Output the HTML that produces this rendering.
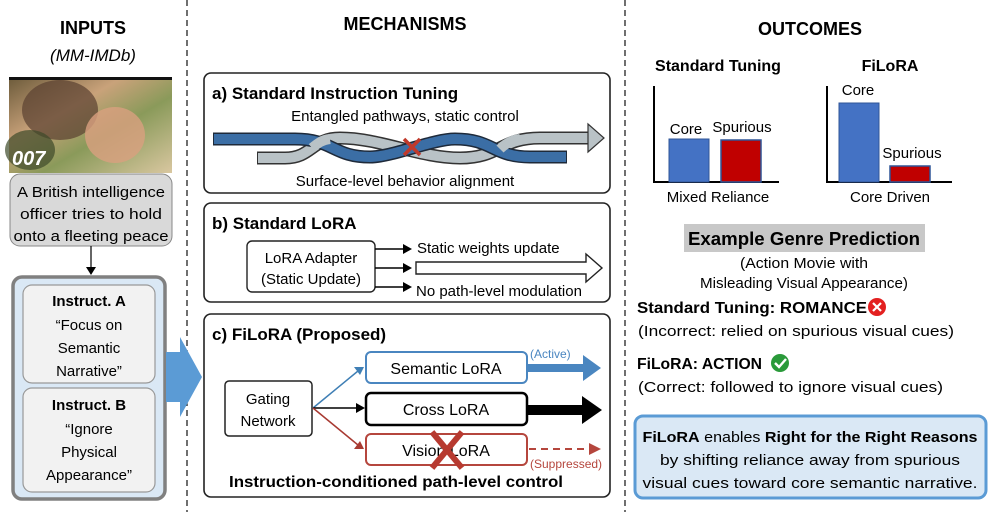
<!DOCTYPE html>
<html><head><meta charset="utf-8"><style>
html,body{margin:0;padding:0;background:#fff;}
svg{display:block;}
text{font-family:"Liberation Sans",sans-serif;}
</style></head><body>
<svg width="996" height="512" viewBox="0 0 996 512" xmlns="http://www.w3.org/2000/svg">
<defs>
<linearGradient id="ph" x1="0" y1="0" x2="1" y2="1">
<stop offset="0" stop-color="#6b5a3a"/><stop offset="0.35" stop-color="#c9a27a"/><stop offset="0.6" stop-color="#8a9a5a"/><stop offset="1" stop-color="#d9c7a0"/>
</linearGradient>
</defs>
<line x1="187" y1="0" x2="187" y2="512" stroke="#222" stroke-width="1.3" stroke-dasharray="6,4"/>
<line x1="625" y1="0" x2="625" y2="512" stroke="#222" stroke-width="1.3" stroke-dasharray="6,4"/>

<text x="93" y="34" font-size="18" font-weight="bold" text-anchor="middle">INPUTS</text>
<text x="93" y="61" font-size="17" font-style="italic" text-anchor="middle">(MM-IMDb)</text>
<rect x="9" y="77" width="163" height="96" fill="url(#ph)"/>
<rect x="9" y="77" width="163" height="3" fill="#111"/>
<ellipse cx="60" cy="110" rx="38" ry="30" fill="#5a4030" opacity="0.7"/>
<ellipse cx="115" cy="135" rx="30" ry="28" fill="#d9a080" opacity="0.8"/>
<ellipse cx="30" cy="150" rx="25" ry="20" fill="#3d4a2a" opacity="0.7"/>
<text x="12" y="165" font-size="20" font-weight="bold" font-style="italic" fill="#fff">007</text>
<rect x="10" y="174" width="162" height="72" rx="10" fill="#d9d9d9" stroke="#888" stroke-width="1"/>
<text x="91" y="197" font-size="15" text-anchor="middle" textLength="148" lengthAdjust="spacingAndGlyphs">A British intelligence</text>
<text x="91" y="219" font-size="15" text-anchor="middle" textLength="142" lengthAdjust="spacingAndGlyphs">officer tries to hold</text>
<text x="91" y="241" font-size="15" text-anchor="middle" textLength="155" lengthAdjust="spacingAndGlyphs">onto a fleeting peace</text>
<line x1="91" y1="246" x2="91" y2="268" stroke="#000" stroke-width="1.2"/>
<polygon points="86,267 96,267 91,275" fill="#000"/>
<rect x="13" y="277" width="152" height="222" rx="9" fill="#dae8f5" stroke="#808080" stroke-width="3.5"/>
<rect x="23" y="285" width="132" height="98" rx="9" fill="#f2f2f2" stroke="#999" stroke-width="1.2"/>
<text x="89" y="306" font-size="15" font-weight="bold" text-anchor="middle">Instruct. A</text>
<text x="89" y="330" font-size="15" text-anchor="middle">“Focus on</text>
<text x="89" y="353" font-size="15" text-anchor="middle">Semantic</text>
<text x="89" y="376" font-size="15" text-anchor="middle">Narrative”</text>
<rect x="23" y="388" width="132" height="104" rx="9" fill="#f2f2f2" stroke="#999" stroke-width="1.2"/>
<text x="89" y="410" font-size="15" font-weight="bold" text-anchor="middle">Instruct. B</text>
<text x="89" y="434" font-size="15" text-anchor="middle">“Ignore</text>
<text x="89" y="457" font-size="15" text-anchor="middle">Physical</text>
<text x="89" y="480" font-size="15" text-anchor="middle">Appearance”</text>
<polygon points="166,352 180,352 180,337 202,377 180,417 180,402 166,402" fill="#5b9bd5"/>

<text x="405" y="30" font-size="18" font-weight="bold" text-anchor="middle">MECHANISMS</text>
<rect x="204" y="73" width="406" height="120" rx="7" fill="#fff" stroke="#222" stroke-width="1.6"/>
<text x="212" y="99" font-size="17" font-weight="bold">a) Standard Instruction Tuning</text>
<text x="405" y="121" font-size="15" text-anchor="middle">Entangled pathways, static control</text>
<path d="M257,158 L285,158 C312,158 312,138 340,138 C380,138 420,158 460,158 C500,158 500,138 540,138 L590,138" fill="none" stroke="#333" stroke-width="13"/>
<path d="M258,158 L285,158 C312,158 312,138 340,138 C380,138 420,158 460,158 C500,158 500,138 540,138 L592,138" fill="none" stroke="#b9c2c6" stroke-width="10"/>
<polygon points="588,124 604,138 588,152" fill="#b9c2c6" stroke="#333" stroke-width="1.2"/>
<path d="M213,139 L295,139 C333,139 333,157 370,157 C392,157 433,139 455,139 C493,139 493,157 530,157 L567,157" fill="none" stroke="#1e2a3a" stroke-width="13"/>
<path d="M214,139 L295,139 C333,139 333,157 370,157 C392,157 433,139 455,139 C493,139 493,157 530,157 L566,157" fill="none" stroke="#3b6ea5" stroke-width="10"/>
<path d="M312,148 C318,143 322,140 330,139" fill="none" stroke="#b9c2c6" stroke-width="10"/>
<path d="M500,149 C506,143 512,140 520,139" fill="none" stroke="#b9c2c6" stroke-width="10"/>
<line x1="404" y1="139" x2="420" y2="155" stroke="#c0392b" stroke-width="3.5"/>
<line x1="420" y1="139" x2="404" y2="155" stroke="#c0392b" stroke-width="3.5"/>
<text x="405" y="186" font-size="15" text-anchor="middle">Surface-level behavior alignment</text>

<rect x="204" y="203" width="406" height="99" rx="7" fill="#fff" stroke="#222" stroke-width="1.6"/>
<text x="212" y="229" font-size="17" font-weight="bold">b) Standard LoRA</text>
<rect x="247" y="241" width="128" height="51" rx="5" fill="#fff" stroke="#222" stroke-width="1.4"/>
<text x="311" y="263" font-size="15" text-anchor="middle">LoRA Adapter</text>
<text x="311" y="284" font-size="15" text-anchor="middle">(Static Update)</text>
<g stroke="#000" stroke-width="1.5">
<line x1="375" y1="249" x2="404" y2="249"/><line x1="375" y1="268" x2="404" y2="268"/><line x1="375" y1="287" x2="404" y2="287"/></g>
<polygon points="403,244 412,249 403,254" fill="#000"/>
<polygon points="403,263 412,268 403,273" fill="#000"/>
<polygon points="403,282 412,287 403,292" fill="#000"/>
<polygon points="416,262 586,262 586,254 602,268 586,282 586,274 416,274" fill="#fff" stroke="#222" stroke-width="1.4"/>
<text x="417" y="253" font-size="15">Static weights update</text>
<text x="416" y="296" font-size="15">No path-level modulation</text>

<rect x="204" y="314" width="406" height="183" rx="7" fill="#fff" stroke="#222" stroke-width="1.6"/>
<text x="212" y="340" font-size="17" font-weight="bold">c) FiLoRA (Proposed)</text>
<rect x="225" y="381" width="87" height="55" rx="4" fill="#fff" stroke="#222" stroke-width="1.5"/>
<text x="268" y="404" font-size="15" text-anchor="middle">Gating</text>
<text x="268" y="426" font-size="15" text-anchor="middle">Network</text>
<line x1="313" y1="408" x2="358" y2="371" stroke="#3f7fb5" stroke-width="1.5"/>
<polygon points="364,367 354,367 360,375" fill="#3f7fb5"/>
<line x1="313" y1="408" x2="357" y2="408" stroke="#000" stroke-width="1.5"/>
<polygon points="356,403 365,408 356,413" fill="#000"/>
<line x1="313" y1="408" x2="358" y2="445" stroke="#a83a32" stroke-width="1.5"/>
<polygon points="364,449 354,449 360,441" fill="#a83a32"/>
<rect x="366" y="352" width="161" height="31" rx="5" fill="#fff" stroke="#4a86c0" stroke-width="2"/>
<text x="446" y="374" font-size="16" text-anchor="middle">Semantic LoRA</text>
<rect x="366" y="393" width="161" height="32" rx="5" fill="#fff" stroke="#000" stroke-width="2.5"/>
<text x="446" y="415" font-size="16" text-anchor="middle">Cross LoRA</text>
<rect x="366" y="434" width="161" height="31" rx="5" fill="#fff" stroke="#b5463d" stroke-width="2"/>
<text x="446" y="456" font-size="16" text-anchor="middle">Vision LoRA</text>
<line x1="432" y1="432" x2="462" y2="468" stroke="#b73a30" stroke-width="6"/>
<line x1="462" y1="432" x2="432" y2="468" stroke="#b73a30" stroke-width="6"/>
<polygon points="527,364 583,364 583,355 601,368 583,381 583,372 527,372" fill="#4a86c0"/>
<text x="530" y="358" font-size="12" fill="#4a86c0">(Active)</text>
<polygon points="527,405 582,405 582,396 602,410 582,424 582,415 527,415" fill="#000"/>
<line x1="529" y1="449" x2="590" y2="449" stroke="#b5463d" stroke-width="2" stroke-dasharray="7,5"/>
<polygon points="589,443 601,449 589,455" fill="#b5463d"/>
<text x="530" y="468" font-size="12" fill="#b5463d">(Suppressed)</text>
<text x="396" y="487" font-size="16" font-weight="bold" text-anchor="middle" textLength="334" lengthAdjust="spacingAndGlyphs">Instruction-conditioned path-level control</text>

<text x="810" y="35" font-size="18" font-weight="bold" text-anchor="middle">OUTCOMES</text>
<text x="718" y="71" font-size="16" font-weight="bold" text-anchor="middle">Standard Tuning</text>
<text x="890" y="71" font-size="16" font-weight="bold" text-anchor="middle">FiLoRA</text>
<path d="M654,86 L654,182 L779,182" fill="none" stroke="#000" stroke-width="2"/>
<rect x="669" y="139" width="40" height="43" fill="#4472c4" stroke="#2f5597" stroke-width="1"/>
<rect x="721" y="140" width="40" height="42" fill="#c00000" stroke="#2f5597" stroke-width="1.5"/>
<text x="686" y="134" font-size="15" text-anchor="middle">Core</text>
<text x="742" y="132" font-size="15" text-anchor="middle">Spurious</text>
<text x="718" y="202" font-size="15" text-anchor="middle">Mixed Reliance</text>
<path d="M827,86 L827,182 L952,182" fill="none" stroke="#000" stroke-width="2"/>
<rect x="839" y="103" width="40" height="79" fill="#4472c4" stroke="#2f5597" stroke-width="1"/>
<rect x="890" y="166" width="40" height="16" fill="#c00000" stroke="#2f5597" stroke-width="1.5"/>
<text x="858" y="95" font-size="15" text-anchor="middle">Core</text>
<text x="912" y="158" font-size="15" text-anchor="middle">Spurious</text>
<text x="890" y="202" font-size="15" text-anchor="middle">Core Driven</text>

<rect x="684" y="224" width="241" height="28" fill="#c8c8c8"/>
<text x="804" y="245" font-size="18" font-weight="bold" text-anchor="middle" textLength="232" lengthAdjust="spacingAndGlyphs">Example Genre Prediction</text>
<text x="804" y="268" font-size="14.5" text-anchor="middle" textLength="128" lengthAdjust="spacingAndGlyphs">(Action Movie with</text>
<text x="804" y="288" font-size="14.5" text-anchor="middle" textLength="208" lengthAdjust="spacingAndGlyphs">Misleading Visual Appearance)</text>
<text x="637" y="313" font-size="16" font-weight="bold" textLength="230" lengthAdjust="spacingAndGlyphs">Standard Tuning: ROMANCE</text>
<circle cx="877" cy="307" r="9" fill="#e32020"/>
<path d="M873,303 L881,311 M881,303 L873,311" stroke="#fff" stroke-width="2.2"/>
<text x="638" y="336" font-size="15" textLength="316" lengthAdjust="spacingAndGlyphs">(Incorrect: relied on spurious visual cues)</text>
<text x="637" y="369" font-size="16" font-weight="bold" textLength="125" lengthAdjust="spacingAndGlyphs">FiLoRA: ACTION</text>
<circle cx="780" cy="363" r="9" fill="#2a9a3a"/>
<path d="M775,363 L779,367 L786,359" fill="none" stroke="#fff" stroke-width="2.4"/>
<text x="638" y="392" font-size="15" textLength="305" lengthAdjust="spacingAndGlyphs">(Correct: followed to ignore visual cues)</text>

<rect x="635" y="416" width="351" height="82" rx="8" fill="#dae8f5" stroke="#5b9bd5" stroke-width="3"/>
<text x="810" y="442" font-size="15" text-anchor="middle" textLength="335" lengthAdjust="spacingAndGlyphs"><tspan font-weight="bold">FiLoRA</tspan> enables <tspan font-weight="bold">Right for the Right Reasons</tspan></text>
<text x="810" y="465" font-size="15" text-anchor="middle" textLength="300" lengthAdjust="spacingAndGlyphs">by shifting reliance away from spurious</text>
<text x="810" y="488" font-size="15" text-anchor="middle" textLength="335" lengthAdjust="spacingAndGlyphs">visual cues toward core semantic narrative.</text>
</svg>
</body></html>
